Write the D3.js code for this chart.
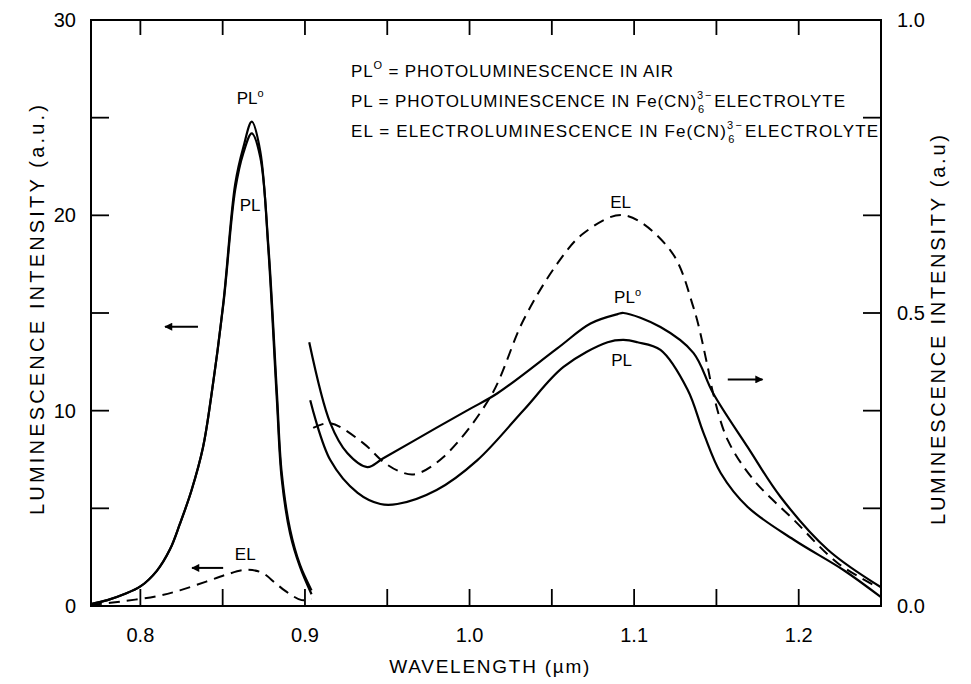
<!DOCTYPE html>
<html><head><meta charset="utf-8">
<script src="https://cdn.jsdelivr.net/npm/d3@7"></script>
<style>
body{margin:0;background:#fff}
svg{display:block}
text{font-family:"Liberation Sans",Arial,sans-serif;fill:#000}
</style>
</head><body>
<svg id="chart" width="971" height="684"></svg>
<script>
// ---------- data ----------
const xDomain = [0.77, 1.25];
const yLeftDomain = [0, 30];
const yRightDomain = [0, 1];
const xTickMarks = [0.8, 0.85, 0.9, 0.95, 1.0, 1.05, 1.1, 1.15, 1.2];
const xTickLabels = [0.8, 0.9, 1.0, 1.1, 1.2];
const yLeftTickMarks = [5, 10, 15, 20, 25];
const yLeftTickLabels = [0, 10, 20, 30];
const yRightTickLabels = [0.0, 0.5, 1.0];

// short-wavelength band (left axis, a.u.)
const plAirLeftX = [0.770,0.780,0.790,0.800,0.810,0.818,0.824,0.831,0.838,0.843,0.8505,0.8576,0.8626,0.8677,0.8728,0.8778,0.8829,0.8859,0.891,0.897,0.904];
const plAirLeftY = [0.1,0.3,0.6,1.0,1.8,2.9,4.2,5.9,8.1,10.7,15.6,21.6,23.5,24.8,23.3,18.2,10.6,6.5,3.7,2.0,0.6];
const plElecLeftX = [0.770,0.780,0.790,0.800,0.810,0.818,0.824,0.831,0.838,0.843,0.8505,0.8576,0.8626,0.8677,0.8728,0.8778,0.8829,0.8859,0.891,0.897,0.904];
const plElecLeftY = [0.1,0.3,0.6,1.0,1.8,2.9,4.2,5.9,8.1,10.7,15.5,21.3,23.2,24.2,23.0,18.4,11.0,6.8,3.9,2.1,0.8];
const elLeftX = [0.770,0.790,0.810,0.824,0.840,0.852,0.864,0.874,0.883,0.891,0.898,0.904];
const elLeftY = [0.05,0.25,0.5,0.8,1.25,1.6,1.85,1.7,1.1,0.6,0.3,0.35];

// long-wavelength band (right axis, a.u.)
const plAirRightX = [0.9026,0.9154,0.9257,0.9379,0.9476,0.9798,1.0,1.017,1.0535,1.0735,1.090,1.0936,1.116,1.136,1.148,1.169,1.189,1.2177,1.25];
const plAirRightY = [0.450,0.312,0.261,0.237,0.252,0.304,0.336,0.363,0.440,0.482,0.498,0.500,0.476,0.432,0.363,0.271,0.186,0.096,0.032];
const plElecRightX = [0.9032,0.9154,0.932,0.9458,0.9561,0.980,1.0048,1.0328,1.0571,1.0839,1.0936,1.102,1.116,1.1325,1.1422,1.1526,1.169,1.197,1.2274,1.25];
const plElecRightY = [0.351,0.249,0.193,0.174,0.174,0.198,0.249,0.334,0.408,0.450,0.454,0.450,0.437,0.369,0.295,0.227,0.169,0.113,0.061,0.015];
const elRightX = [0.905,0.9154,0.9354,0.9476,0.958,0.967,0.984,1.0127,1.0328,1.0535,1.0693,1.0936,1.122,1.136,1.1447,1.148,1.1569,1.1727,1.197,1.2238,1.2481];
const elRightY = [0.304,0.312,0.278,0.246,0.229,0.225,0.254,0.357,0.488,0.585,0.636,0.667,0.607,0.510,0.408,0.363,0.283,0.215,0.147,0.073,0.032];

// ---------- layout ----------
const L = 91, R = 881, T = 20, B = 606;
const svg = d3.select("#chart");
const x = d3.scaleLinear().domain(xDomain).range([L, R]);
const yL = d3.scaleLinear().domain(yLeftDomain).range([B, T]);
const yR = d3.scaleLinear().domain(yRightDomain).range([B, T]);

const zip = (xs, ys) => xs.map((v, i) => [v, ys[i]]);
const lineL = d3.line().x(d => x(d[0])).y(d => yL(d[1])).curve(d3.curveCatmullRom.alpha(0.5));
const lineR = d3.line().x(d => x(d[0])).y(d => yR(d[1])).curve(d3.curveCatmullRom.alpha(0.5));

// frame
svg.append("rect").attr("x", L).attr("y", T).attr("width", R - L).attr("height", B - T)
  .attr("fill", "none").attr("stroke", "#000").attr("stroke-width", 2);

const tk = svg.append("g").attr("stroke", "#000").attr("stroke-width", 1.8);
xTickMarks.forEach(v => {
  tk.append("line").attr("x1", x(v)).attr("x2", x(v)).attr("y1", B).attr("y2", B - 17);
  tk.append("line").attr("x1", x(v)).attr("x2", x(v)).attr("y1", T).attr("y2", T + 15);
});
yLeftTickMarks.forEach(v => {
  tk.append("line").attr("x1", L).attr("x2", L + 18).attr("y1", yL(v)).attr("y2", yL(v));
  tk.append("line").attr("x1", R).attr("x2", R - 18).attr("y1", yL(v)).attr("y2", yL(v));
});

// tick labels
const fmt1 = d3.format(".1f");
svg.append("g").selectAll("text").data(xTickLabels).join("text")
  .attr("x", d => x(d)).attr("y", 642).attr("text-anchor", "middle")
  .attr("font-size", 20).text(d => fmt1(d));
svg.append("g").selectAll("text").data(yLeftTickLabels).join("text")
  .attr("x", 76).attr("y", d => yL(d) + 7).attr("text-anchor", "end")
  .attr("font-size", 20).text(d => d);
svg.append("g").selectAll("text").data(yRightTickLabels).join("text")
  .attr("x", 897).attr("y", d => yR(d) + 7).attr("text-anchor", "start")
  .attr("font-size", 20).text(d => fmt1(d));

// axis titles
svg.append("text").attr("x", x(1.012)).attr("y", 673).attr("text-anchor", "middle")
  .attr("font-size", 19).attr("textLength", 200).attr("lengthAdjust", "spacing")
  .text("WAVELENGTH (\u00b5m)");
svg.append("text").attr("transform", "translate(44,310) rotate(-90)").attr("text-anchor", "middle")
  .attr("font-size", 20).attr("textLength", 410).attr("lengthAdjust", "spacing")
  .text("LUMINESCENCE INTENSITY (a.u.)");
svg.append("text").attr("transform", "translate(945,330) rotate(-90)").attr("text-anchor", "middle")
  .attr("font-size", 20).attr("textLength", 390).attr("lengthAdjust", "spacing")
  .text("LUMINESCENCE INTENSITY (a.u)");

// curves
const curves = svg.append("g").attr("fill", "none").attr("stroke", "#000").attr("stroke-linejoin", "round");
curves.append("path").attr("d", lineL(zip(plAirLeftX, plAirLeftY))).attr("stroke-width", 2.2);
curves.append("path").attr("d", lineL(zip(plElecLeftX, plElecLeftY))).attr("stroke-width", 2.2);
curves.append("path").attr("d", lineL(zip(elLeftX, elLeftY))).attr("stroke-width", 2).attr("stroke-dasharray", "11,7");
curves.append("path").attr("d", lineR(zip(plAirRightX, plAirRightY))).attr("stroke-width", 2.2);
curves.append("path").attr("d", lineR(zip(plElecRightX, plElecRightY))).attr("stroke-width", 2.2);
curves.append("path").attr("d", lineR(zip(elRightX, elRightY))).attr("stroke-width", 2).attr("stroke-dasharray", "11,7");

// curve labels
function plo(xv, yv, sup) {
  const t = svg.append("text").attr("x", x(xv)).attr("y", yL(yv)).attr("text-anchor", "middle").attr("font-size", 17);
  t.append("tspan").text("PL");
  if (sup) t.append("tspan").attr("dy", -7).attr("font-size", 11).text("o");
  return t;
}
plo(0.8667, 25.7, true);
plo(0.8667, 20.2, false);
plo(1.096, 15.5, true);
plo(1.0924, 12.3, false);
svg.append("text").attr("x", x(0.8637)).attr("y", yL(2.35)).attr("text-anchor", "middle").attr("font-size", 17).text("EL");
svg.append("text").attr("x", x(1.0918)).attr("y", yL(20.4)).attr("text-anchor", "middle").attr("font-size", 17).text("EL");

// arrows
const defs = svg.append("defs");
defs.append("marker").attr("id", "ah").attr("viewBox", "0 0 10 10").attr("refX", 9).attr("refY", 5)
  .attr("markerWidth", 12).attr("markerHeight", 8).attr("markerUnits", "userSpaceOnUse").attr("orient", "auto")
  .append("path").attr("d", "M0,0 L10,5 L0,10 Z").attr("fill", "#000");
function arrow(x1, x2, yv) {
  svg.append("line").attr("x1", x(x1)).attr("x2", x(x2)).attr("y1", yL(yv)).attr("y2", yL(yv))
    .attr("stroke", "#000").attr("stroke-width", 2).attr("marker-end", "url(#ah)");
}
arrow(0.835, 0.815, 14.3);
arrow(0.8503, 0.8314, 1.95);
arrow(1.1569, 1.178, 11.6);

// legend
function legendLine(yb, prefix, sup, rest, chem, tail, len) {
  const t = svg.append("text").attr("x", 351).attr("y", yb).attr("font-size", 17)
    .attr("textLength", len).attr("lengthAdjust", "spacing");
  t.append("tspan").text(prefix);
  if (sup) { t.append("tspan").attr("dy", -8).attr("font-size", 11).text("O"); t.append("tspan").attr("dy", 8).text(rest); }
  else t.append("tspan").text(rest);
  if (chem) {
    t.append("tspan").attr("dy", -8).attr("font-size", 11).text("3");
    t.append("tspan").attr("dy", 14).attr("dx", "-0.556em").attr("font-size", 11).text("6");
    t.append("tspan").attr("dy", -14).attr("font-size", 11).text("\u2212");
    t.append("tspan").attr("dy", 8).attr("dx", 2).text(tail);
  }
}
legendLine(77, "PL", true, " = PHOTOLUMINESCENCE IN AIR", false, "", 322);
legendLine(107, "PL", false, " = PHOTOLUMINESCENCE IN Fe(CN)", true, "ELECTROLYTE", 494);
legendLine(137, "EL", false, " = ELECTROLUMINESCENCE IN Fe(CN)", true, "ELECTROLYTE", 527);
</script>
</body></html>
